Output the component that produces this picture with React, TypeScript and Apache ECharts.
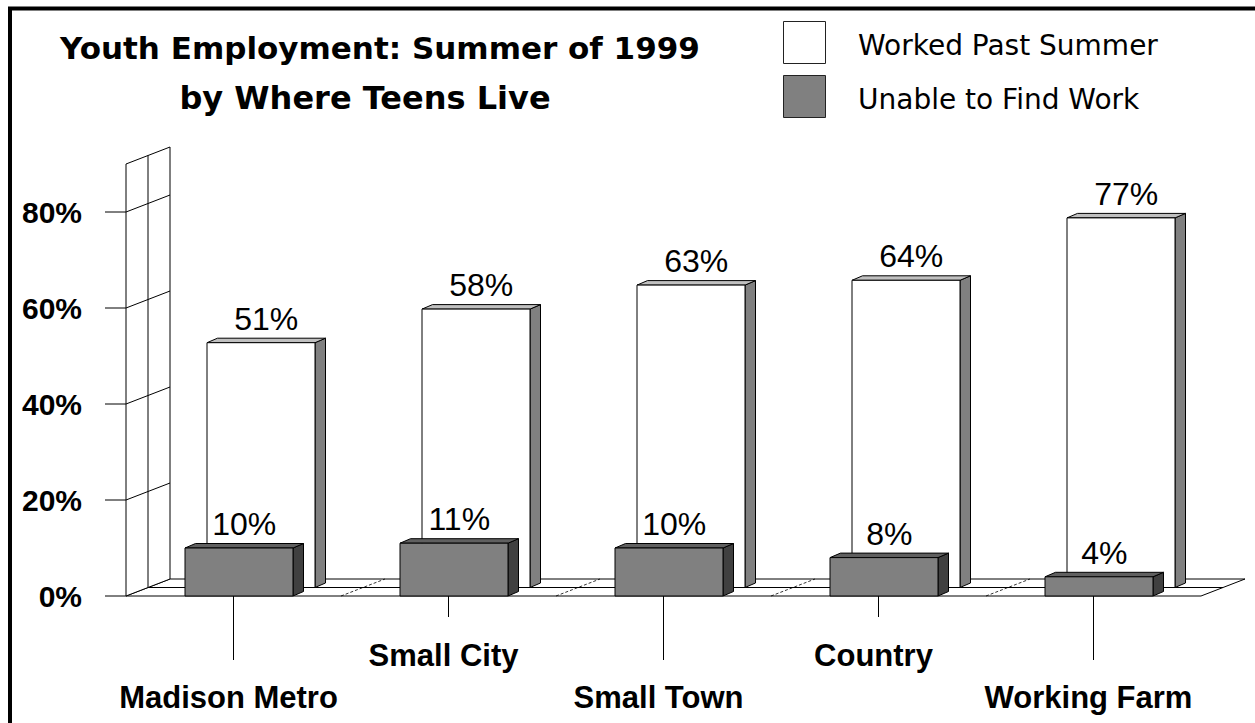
import React, { useEffect, useRef } from "react";
import * as echarts from "echarts";

const categories = ["Madison Metro", "Small City", "Small Town", "Country", "Working Farm"];
const workedPastSummer = [51, 58, 63, 64, 77];
const unableToFindWork = [10, 11, 10, 8, 4];
const yTicks = [0, 20, 40, 60, 80];
const wallTop = 90;
const titleLines = ["Youth Employment: Summer of 1999", "by Where Teens Live"];
const legendNames = ["Worked Past Summer", "Unable to Find Work"];

const DX = 44;
const DY = -17;
const BAR_DX = 10.5;
const BAR_DY = -4.5;
const BAR_W_RATIO = 108 / 215;
const BAR_SHIFT = 5.5 / 215;
const FONT = '"Liberation Sans", Arial, sans-serif';
const WIDE = '"DejaVu Sans", "Liberation Sans", sans-serif';

function frameRender(params: any, api: any) {
  const cs = params.coordSys;
  const x0 = cs.x;
  const x1 = cs.x + cs.width;
  const yAt = (v: number) => api.coord([0, v])[1];
  const y0 = yAt(0);
  const yT = yAt(wallTop);
  const band = api.size([1, 0])[0];
  const line = { stroke: "#000", lineWidth: 1 };
  const children: any[] = [];
  children.push({
    type: "polygon",
    shape: { points: [[x0, y0], [x1, y0], [x1 + DX, y0 + DY], [x0 + DX, y0 + DY]] },
    style: { fill: "#fff", ...line },
  });
  children.push({
    type: "line",
    shape: { x1: x0 + DX / 2, y1: y0 + DY / 2, x2: x1 + DX / 2, y2: y0 + DY / 2 },
    style: line,
  });
  for (let i = 1; i < categories.length; i++) {
    const x = x0 + i * band;
    children.push({
      type: "line",
      shape: { x1: x, y1: y0, x2: x + DX, y2: y0 + DY },
      style: { stroke: "#000", lineWidth: 0.8, lineDash: [3, 2] },
    });
  }
  children.push({
    type: "polygon",
    shape: { points: [[x0, y0], [x0, yT], [x0 + DX, yT + DY], [x0 + DX, y0 + DY]] },
    style: { fill: "#fff", ...line },
  });
  children.push({
    type: "line",
    shape: { x1: x0 + DX / 2, y1: y0 + DY / 2, x2: x0 + DX / 2, y2: yT + DY / 2 },
    style: line,
  });
  yTicks.forEach((v) => {
    const y = yAt(v);
    if (v > 0) {
      children.push({ type: "line", shape: { x1: x0, y1: y, x2: x0 + DX, y2: y + DY }, style: line });
    }
    children.push({ type: "line", shape: { x1: x0 - 21, y1: y, x2: x0, y2: y }, style: line });
  });
  categories.forEach((_, i) => {
    const cx = api.coord([i, 0])[0];
    children.push({
      type: "line",
      shape: { x1: cx, y1: y0, x2: cx, y2: y0 + (i % 2 === 0 ? 64 : 21) },
      style: line,
    });
  });
  return { type: "group", children };
}

function barRender(row: number, front: string, side: string, top: string) {
  return (params: any, api: any) => {
    const idx = api.value(0);
    const val = api.value(1);
    const band = api.size([1, 0])[0];
    const [cx, yb] = api.coord([idx, 0]);
    const yt = api.coord([idx, val])[1];
    const w = band * BAR_W_RATIO;
    const left = cx - w / 2 + band * BAR_SHIFT + DX * row;
    const base = yb + DY * row;
    const t = yt + DY * row;
    const r = left + w;
    const st = { stroke: "#000", lineWidth: 1 };
    return {
      type: "group",
      children: [
        {
          type: "polygon",
          shape: { points: [[r, base], [r, t], [r + BAR_DX, t + BAR_DY], [r + BAR_DX, base + BAR_DY]] },
          style: { fill: side, ...st },
        },
        {
          type: "polygon",
          shape: { points: [[left, t], [r, t], [r + BAR_DX, t + BAR_DY], [left + BAR_DX, t + BAR_DY]] },
          style: { fill: top, ...st },
        },
        {
          type: "rect",
          shape: { x: left, y: t, width: w, height: base - t },
          style: { fill: front, ...st },
        },
        {
          type: "text",
          style: {
            text: val + "%",
            x: left + w / 2 + BAR_DX / 2,
            y: t - 8,
            align: "center",
            verticalAlign: "bottom",
            fontSize: 32,
            fontFamily: FONT,
            fill: "#000",
          },
        },
      ],
    };
  };
}

export default function App() {
  const ref = useRef<HTMLDivElement>(null);
  useEffect(() => {
    document.body.style.margin = "0";
    const chart = echarts.init(ref.current!, undefined, { renderer: "svg" });
    chart.setOption({
      animation: false,
      backgroundColor: "#fff",
      grid: { left: 126, right: 54, top: 164, bottom: 127, containLabel: false, outerBoundsMode: "none" },
      xAxis: {
        type: "category",
        data: categories,
        axisLine: { show: false },
        axisTick: { show: false },
        splitLine: { show: false },
        axisLabel: {
          interval: 0,
          margin: 38,
          lineHeight: 42,
          fontSize: 31,
          fontWeight: "bold",
          fontFamily: FONT,
          color: "#000",
          padding: [0, 10, 0, 0],
          formatter: (v: string, i: number) => (i % 2 === 0 ? "\n" + v : v),
        },
      },
      yAxis: {
        type: "value",
        min: 0,
        max: wallTop,
        interval: 20,
        axisLine: { show: false },
        axisTick: { show: false },
        splitLine: { show: false },
        axisLabel: {
          margin: 44,
          fontSize: 30,
          fontWeight: "bold",
          fontFamily: FONT,
          color: "#000",
          formatter: (v: number) => (yTicks.indexOf(v) >= 0 ? v + "%" : ""),
        },
      },
      graphic: [
        {
          type: "rect",
          shape: { x: 10, y: 8.5, width: 1400, height: 900 },
          style: { fill: "none", stroke: "#000", lineWidth: 4 },
          silent: true,
        },
        {
          type: "text",
          style: { text: titleLines[0], x: 380, y: 48, align: "center", verticalAlign: "middle", fontSize: 31, fontWeight: "bold", fontFamily: WIDE, fill: "#000" },
        },
        {
          type: "text",
          style: { text: titleLines[1], x: 365, y: 98, align: "center", verticalAlign: "middle", fontSize: 32, fontWeight: "bold", fontFamily: WIDE, fill: "#000" },
        },
        {
          type: "rect",
          shape: { x: 783.5, y: 21.5, width: 42, height: 42 },
          style: { fill: "#fff", stroke: "#222", lineWidth: 1 },
        },
        {
          type: "rect",
          shape: { x: 783.5, y: 75.5, width: 42, height: 42 },
          style: { fill: "#808080", stroke: "#222", lineWidth: 1 },
        },
        {
          type: "text",
          style: { text: legendNames[0], x: 858, y: 45, align: "left", verticalAlign: "middle", fontSize: 28, fontFamily: WIDE, fill: "#000" },
        },
        {
          type: "text",
          style: { text: legendNames[1], x: 858, y: 99, align: "left", verticalAlign: "middle", fontSize: 28, fontFamily: WIDE, fill: "#000" },
        },
      ],
      series: [
        {
          type: "custom",
          name: "frame",
          z: 1,
          silent: true,
          renderItem: frameRender,
          data: [[0, 0]],
        },
        {
          type: "custom",
          name: legendNames[0],
          z: 2,
          silent: true,
          renderItem: barRender(0.5, "#ffffff", "#808080", "#c0c0c0"),
          data: workedPastSummer.map((v, i) => [i, v]),
        },
        {
          type: "custom",
          name: legendNames[1],
          z: 3,
          silent: true,
          renderItem: barRender(0, "#808080", "#404040", "#606060"),
          data: unableToFindWork.map((v, i) => [i, v]),
        },
      ],
    });
    return () => chart.dispose();
  }, []);
  return <div ref={ref} style={{ width: 1255, height: 723 }} />;
}
